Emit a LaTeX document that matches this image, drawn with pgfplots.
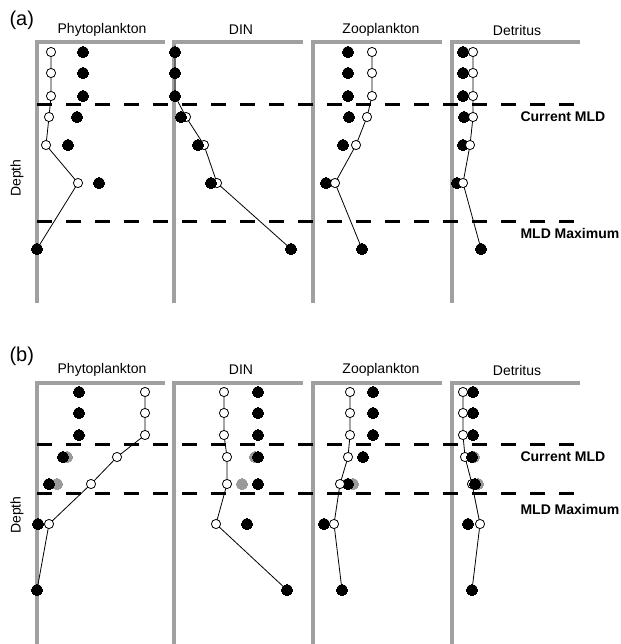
\documentclass[border=0pt]{standalone}
\usepackage{pgfplots}
\pgfplotsset{compat=1.18}
\usepackage{fontspec}
\setmainfont{Liberation Sans}
\definecolor{axgray}{HTML}{A0A0A0}
\definecolor{dotgray}{HTML}{9A9A9A}
\pgfplotsset{
  frame/.style={no marks, axgray, line width=4pt, line join=miter},
  conn/.style={no marks, black, line width=0.8pt},
  wc/.style={only marks, mark=*, mark size=4.6pt, mark options={fill=white, draw=black, line width=0.8pt}},
  bc/.style={only marks, mark=*, mark size=5.6pt, mark options={fill=black, draw=black, line width=0pt}},
  gc/.style={only marks, mark=*, mark size=5.6pt, mark options={fill=dotgray, draw=dotgray, line width=0pt}},
  mld/.style={no marks, black, line width=3pt, dash pattern=on 15pt off 14pt},
}
\begin{document}
\begin{tikzpicture}
\useasboundingbox (0,0) rectangle (620pt,-644pt);
\begin{axis}[at={(0pt,0pt)}, anchor=north west, x=1pt, y=1pt,
  xmin=0, xmax=620, ymin=0, ymax=644, y dir=reverse, hide axis, clip=false]
% ---------- panel (a) frames ----------
\addplot[frame] coordinates {(37,303) (37,42) (165,42)};
\addplot[frame] coordinates {(174,303) (174,42) (303,42)};
\addplot[frame] coordinates {(313,303) (313,42) (442,42)};
\addplot[frame] coordinates {(452,303) (452,42) (580,42)};
% ---------- panel (b) frames ----------
\addplot[frame] coordinates {(37,644) (37,383) (165,383)};
\addplot[frame] coordinates {(174,644) (174,383) (303,383)};
\addplot[frame] coordinates {(313,644) (313,383) (442,383)};
\addplot[frame] coordinates {(452,644) (452,383) (580,383)};
% ---------- MLD lines ----------
\addplot[mld] coordinates {(37,104) (575,104)};
\addplot[mld] coordinates {(37,221) (575,221)};
\addplot[mld] coordinates {(37,444) (575,444)};
\addplot[mld] coordinates {(37,493) (575,493)};

% ================= PANEL (a) =================
% Phytoplankton
\addplot[conn] coordinates {(51,52) (51,73) (51,96) (49,117) (46,145) (78,183) (37,249)};
\addplot[bc] coordinates {(83,52) (83,73) (83,96) (77,117) (68,145) (99,183) (37,249)};
\addplot[wc] coordinates {(51,52) (51,73) (51,96) (49,117) (46,145) (78,183)};
% DIN
\addplot[conn] coordinates {(175,52) (175,73) (175,96) (186,117) (204,145) (217,183) (291,249)};
\addplot[wc] coordinates {(175,52) (175,73) (175,96) (186,117) (204,145) (217,183)};
\addplot[bc] coordinates {(175,52) (175,73) (175,96) (181,117) (198,145) (211,183) (291,249)};
% Zooplankton
\addplot[conn] coordinates {(372,52) (372,73) (372,96) (367,117) (356,145) (335,183) (362,249)};
\addplot[bc] coordinates {(348,52) (348,73) (348,96) (349,117) (343,145) (326,183) (362,249)};
\addplot[wc] coordinates {(372,52) (372,73) (372,96) (367,117) (356,145) (335,183)};
% Detritus
\addplot[conn] coordinates {(473,52) (473,73) (473,96) (473,117) (470,145) (463,183) (481,249)};
\addplot[bc] coordinates {(463,52) (463,73) (463,96) (464,117) (463,145) (457,183) (481,249)};
\addplot[wc] coordinates {(473,52) (473,73) (473,96) (473,117) (470,145) (463,183)};

% ================= PANEL (b) =================
% Phytoplankton
\addplot[conn] coordinates {(145,392) (145,413) (145,435) (117,457) (91,484) (49,524) (37,590)};
\addplot[gc] coordinates {(67,457) (57,484)};
\addplot[bc] coordinates {(79,392) (79,413) (79,435) (63,457) (49,484) (38,524) (37,590)};
\addplot[wc] coordinates {(145,392) (145,413) (145,435) (117,457) (91,484) (49,524)};
% DIN
\addplot[conn] coordinates {(224,392) (224,413) (224,435) (227,457) (227,484) (216,524) (287,590)};
\addplot[wc] coordinates {(224,392) (224,413) (224,435) (227,457) (227,484) (216,524)};
\addplot[gc] coordinates {(255,457) (242,484)};
\addplot[bc] coordinates {(258,392) (258,413) (258,435) (258,457) (258,484) (247,524) (287,590)};
% Zooplankton
\addplot[conn] coordinates {(350,392) (350,413) (350,435) (348,457) (340,484) (334,524) (342,590)};
\addplot[gc] coordinates {(353,484)};
\addplot[bc] coordinates {(373,392) (373,413) (373,435) (363,457) (348,484) (324,524) (342,590)};
\addplot[wc] coordinates {(350,392) (350,413) (350,435) (348,457) (340,484) (334,524)};
% Detritus
\addplot[conn] coordinates {(463,392) (463,413) (463,435) (465,457) (472,484) (480,524) (472,590)};
\addplot[wc] coordinates {(463,392) (463,413) (463,435) (465,457) (472,484) (480,524)};
\addplot[gc] coordinates {(474,457) (478,484)};
\addplot[bc] coordinates {(473,392) (473,413) (473,435) (472,457) (475,484) (468,524) (472,590)};

% ---------- text ----------
\node[font=\fontsize{20}{22}\selectfont, anchor=west] at (axis cs:6,20) {(a)};
\node[font=\fontsize{20}{22}\selectfont, anchor=west] at (axis cs:6,356) {(b)};
\foreach \yy/\dd in {30/178, 370/515} {
  \edef\tmp{\noexpand\node[font=\noexpand\fontsize{14}{16}\noexpand\selectfont] at (axis cs:102,\yy) {Phytoplankton};
  \noexpand\node[font=\noexpand\fontsize{14}{16}\noexpand\selectfont] at (axis cs:241,\yy) {DIN};
  \noexpand\node[font=\noexpand\fontsize{14}{16}\noexpand\selectfont] at (axis cs:381,\yy) {Zooplankton};
  \noexpand\node[font=\noexpand\fontsize{14}{16}\noexpand\selectfont] at (axis cs:517,\yy) {Detritus};
  \noexpand\node[font=\noexpand\fontsize{14}{16}\noexpand\selectfont, rotate=90] at (axis cs:17,\dd) {Depth};}
  \tmp
}
\node[font=\bfseries\fontsize{14}{16}\selectfont, anchor=west] at (axis cs:517,117) {Current MLD};
\node[font=\bfseries\fontsize{14}{16}\selectfont, anchor=west] at (axis cs:517,233) {MLD Maximum};
\node[font=\bfseries\fontsize{14}{16}\selectfont, anchor=west] at (axis cs:517,457) {Current MLD};
\node[font=\bfseries\fontsize{14}{16}\selectfont, anchor=west] at (axis cs:517,509) {MLD Maximum};
\end{axis}
\end{tikzpicture}
\end{document}
